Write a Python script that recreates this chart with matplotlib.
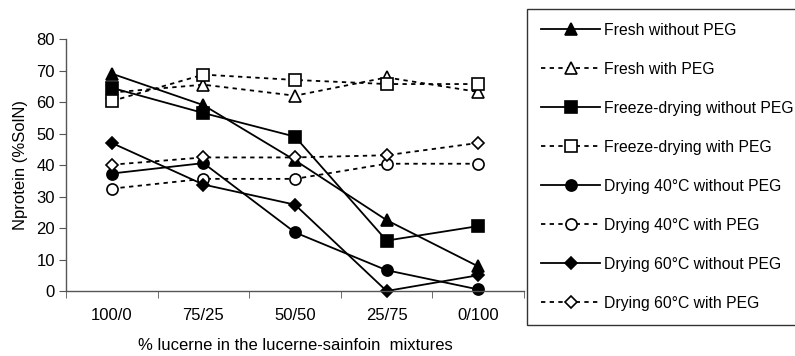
import matplotlib.pyplot as plt
from matplotlib.ticker import FixedLocator, NullFormatter

plt.rcParams['font.family'] = ['Liberation Sans', 'DejaVu Sans']

# categories on the x axis
categories = ["100/0", "75/25", "50/50", "25/75", "0/100"]

# Nprotein (%SolN) for each treatment
fresh_without_peg = [69, 59, 41.5, 22.5, 7.8]
fresh_with_peg = [63, 65.5, 62, 67.8, 63.2]
freeze_without_peg = [64.5, 56.5, 49, 16, 20.6]
freeze_with_peg = [60.3, 68.7, 67, 65.7, 65.7]
dry40_without_peg = [37.3, 40.6, 18.6, 6.6, 0.5]
dry40_with_peg = [32.5, 35.6, 35.6, 40.4, 40.4]
dry60_without_peg = [47, 33.8, 27.4, 0, 5]
dry60_with_peg = [40.1, 42.4, 42.4, 43.1, 47]

dash = (0, (2.4, 2.4))
series = [
    ("Fresh without PEG", fresh_without_peg, "^", "black", "-"),
    ("Fresh with PEG", fresh_with_peg, "^", "white", dash),
    ("Freeze-drying without PEG", freeze_without_peg, "s", "black", "-"),
    ("Freeze-drying with PEG", freeze_with_peg, "s", "white", dash),
    ("Drying 40°C without PEG", dry40_without_peg, "o", "black", "-"),
    ("Drying 40°C with PEG", dry40_with_peg, "o", "white", dash),
    ("Drying 60°C without PEG", dry60_without_peg, "D", "black", "-"),
    ("Drying 60°C with PEG", dry60_with_peg, "D", "white", dash),
]
msizes = {"^": 8.5, "s": 8, "o": 8, "D": 6.5}

fig = plt.figure(figsize=(7.95, 3.56), dpi=100)
ax = fig.add_axes([66 / 795, 1 - 291 / 356, (524 - 66) / 795, (291 - 39) / 356])

x = range(len(categories))
for label, vals, mk, face, ls in series:
    ax.plot(x, vals, linestyle=ls, color="black", linewidth=1.3,
            marker=mk, markersize=msizes[mk], markerfacecolor=face,
            markeredgecolor="black", markeredgewidth=1.2, label=label,
            clip_on=False)

ax.set_xlim(-0.5, len(categories) - 0.5)
ax.set_ylim(0, 80)
ax.set_yticks(range(0, 81, 10))
ax.set_xticks(list(x))
ax.set_xticklabels(categories)
ax.xaxis.set_minor_locator(FixedLocator([i - 0.5 for i in range(len(categories) + 1)]))
ax.xaxis.set_minor_formatter(NullFormatter())
ax.tick_params(axis="x", which="major", length=0, pad=12, labelsize=12)
ax.tick_params(axis="x", which="minor", length=5, direction="out", color="#555555")
ax.tick_params(axis="y", length=5, direction="out", labelsize=12, color="#555555", pad=3)

for side in ["top", "right"]:
    ax.spines[side].set_visible(False)
for side in ["left", "bottom"]:
    ax.spines[side].set_color("#555555")
    ax.spines[side].set_linewidth(1.0)

ax.set_xlabel("% lucerne in the lucerne-sainfoin  mixtures", fontsize=12, labelpad=11)
ax.set_ylabel("Nprotein (%SolN)", fontsize=12, labelpad=6)

leg = fig.legend(loc="upper left", bbox_to_anchor=(527 / 795, 1 - 9 / 356),
                 frameon=True, fancybox=False, edgecolor="black",
                 fontsize=11.3, handlelength=3.8, handletextpad=0.25,
                 labelspacing=1.53, borderpad=0.88, borderaxespad=0)
leg.get_frame().set_linewidth(1.0)

fig.savefig("out.png", dpi=100)
